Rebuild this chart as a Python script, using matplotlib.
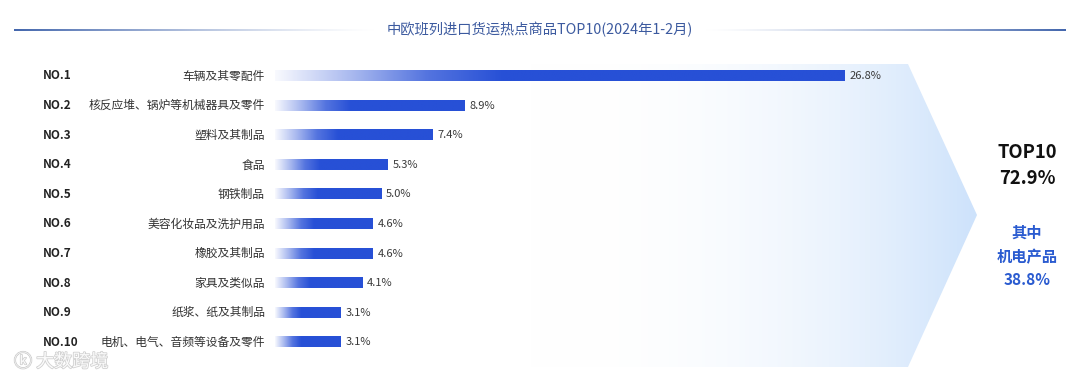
import numpy as np
import matplotlib
matplotlib.use("Agg")
import matplotlib.pyplot as plt
from matplotlib.colors import LinearSegmentedColormap, to_rgb
from matplotlib.patches import Polygon
import matplotlib.patheffects as pe

plt.rcParams['font.family'] = ['Noto Sans CJK SC', 'DejaVu Sans']

# data
ranks = ["NO.1", "NO.2", "NO.3", "NO.4", "NO.5", "NO.6", "NO.7", "NO.8", "NO.9", "NO.10"]
categories = ["车辆及其零配件", "核反应堆、锅炉等机械器具及零件", "塑料及其制品", "食品", "钢铁制品",
              "美容化妆品及洗护用品", "橡胶及其制品", "家具及类似品", "纸浆、纸及其制品",
              "电机、电气、音频等设备及零件"]
shares = [26.8, 8.9, 7.4, 5.3, 5.0, 4.6, 4.6, 4.1, 3.1, 3.1]
title = "中欧班列进口货运热点商品TOP10(2024年1-2月)"
summary_top = ["TOP10", "72.9%"]
summary_sub = ["其中", "机电产品", "38.8%"]

BLUE = "#2750d6"
W, H = 1080, 375

fig = plt.figure(figsize=(W / 100, H / 100), dpi=100)

# background layer in pixel coordinates (decorations only)
bg = fig.add_axes([0, 0, 1, 1], zorder=0)
bg.set_xlim(0, W)
bg.set_ylim(H, 0)
bg.axis("off")

# light-blue arrow behind the bars
arrow = Polygon([(420, 64), (908, 64), (977, 215), (908, 367), (420, 367)],
                closed=True, facecolor="none", edgecolor="none")
bg.add_patch(arrow)
tip = np.array(to_rgb("#cde2fb"))
xs = np.linspace(0, 1, 400)
t = np.clip((xs - 0.2) / 0.8, 0, 1) ** 2.4
grad = np.ones((2, 400, 3)) * (1 - t[None, :, None]) + tip[None, None, :] * t[None, :, None]
im = bg.imshow(grad, extent=(420, 977, 367, 64), aspect="auto", interpolation="bilinear")
im.set_clip_path(arrow)

# title with fading side lines
line_col = np.array(to_rgb("#4467ad"))
for x0, x1, rev in [(14, 375, False), (705, 1066, True)]:
    f = np.linspace(1, 0, 300) if not rev else np.linspace(0, 1, 300)
    f = f ** 1.3
    g = np.ones((1, 300, 3)) * (1 - f[None, :, None]) + line_col[None, None, :] * f[None, :, None]
    bg.imshow(g, extent=(x0, x1, 31.0, 29.0), aspect="auto", interpolation="bilinear")
bg.set_xlim(0, W)
bg.set_ylim(H, 0)
bg.text(540, 30, title, ha="center", va="center", fontsize=10.3, color="#3c5a9f")

# right-hand summary
for s, y in zip(summary_top, [153, 179]):
    bg.text(1027, y, s, ha="center", va="center", fontsize=13.3, fontweight="bold", color="#111111")
for s, y in zip(summary_sub, [233, 257, 280]):
    bg.text(1027, y, s, ha="center", va="center", fontsize=11, fontweight="bold", color="#2a5bd0")

# watermark
bg.text(14, 362, "ⓚ 大数跨境", ha="left", va="center", fontsize=13, color="white", alpha=0.9,
        path_effects=[pe.withStroke(linewidth=1.2, foreground="#cccccc")], zorder=5)

# bar chart
px_per = 570 / 26.8
ax_w = 600
top_px, row = 61.2, 29.6
bottom_px = top_px + row * len(shares)
ax = fig.add_axes([275 / W, 1 - bottom_px / H, ax_w / W, (bottom_px - top_px) / H], zorder=2)
ax.patch.set_alpha(0)
ax.axis("off")

cmap = LinearSegmentedColormap.from_list("bar", ["#f8f9fe", "#a9b9ef", "#5474df", BLUE])
ramp = np.clip(np.linspace(0, 1, 256) / 0.4, 0, 1)[None, :]
bh = 0.34
for i, v in enumerate(shares):
    ax.imshow(ramp, cmap=cmap, vmin=0, vmax=1, extent=(0, v, i + bh / 2, i - bh / 2),
              aspect="auto", interpolation="bilinear")
    ax.annotate(f"{v:.1f}%", xy=(v, i), xytext=(3.5, 0), textcoords="offset points",
                ha="left", va="center", fontsize=8, color="#3a3a3a")
trans = ax.get_yaxis_transform()
for i, (r, c) in enumerate(zip(ranks, categories)):
    ax.text(-10 / ax_w, i, c, transform=trans, ha="right", va="center", fontsize=8.5, color="#333333")
    ax.text(-232 / ax_w, i, r, transform=trans, ha="left", va="center", fontsize=8.5,
            fontweight="bold", color="#222222")
ax.set_xlim(0, ax_w / px_per)
ax.set_ylim(len(shares) - 0.5, -0.5)

fig.savefig("out.png", dpi=100)
